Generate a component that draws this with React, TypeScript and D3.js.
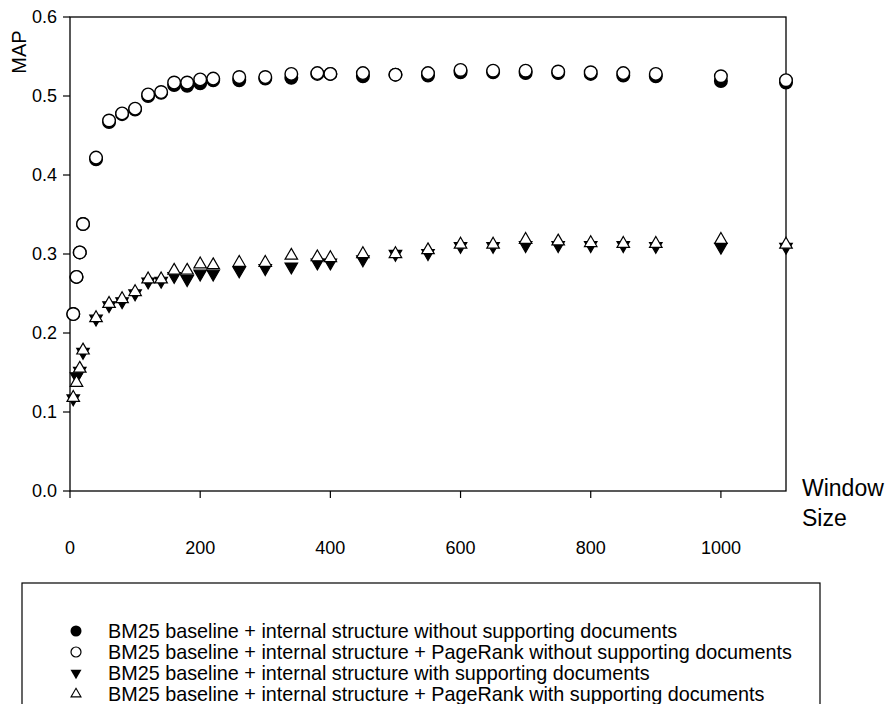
import React from "react";
import * as d3 from "d3";

const windowSizes = [5, 10, 15, 20, 40, 60, 80, 100, 120, 140, 160, 180, 200, 220, 260, 300, 340, 380, 400, 450, 500, 550, 600, 650, 700, 750, 800, 850, 900, 1000, 1100];

const baseNoSupport = [0.224, 0.271, 0.302, 0.338, 0.420, 0.467, 0.477, 0.483, 0.500, 0.504, 0.514, 0.513, 0.516, 0.520, 0.520, 0.522, 0.523, 0.528, 0.528, 0.525, 0.527, 0.526, 0.530, 0.530, 0.529, 0.529, 0.528, 0.526, 0.525, 0.519, 0.517];
const prNoSupport = [0.224, 0.271, 0.302, 0.338, 0.422, 0.469, 0.478, 0.484, 0.502, 0.505, 0.517, 0.517, 0.521, 0.522, 0.524, 0.524, 0.528, 0.529, 0.528, 0.529, 0.527, 0.529, 0.533, 0.532, 0.532, 0.531, 0.530, 0.529, 0.528, 0.525, 0.520];
const baseSupport = [0.117, 0.145, 0.152, 0.176, 0.218, 0.235, 0.240, 0.250, 0.265, 0.266, 0.272, 0.268, 0.275, 0.275, 0.279, 0.282, 0.284, 0.289, 0.289, 0.293, 0.300, 0.301, 0.310, 0.310, 0.311, 0.311, 0.311, 0.311, 0.310, 0.309, 0.309];
const prSupport = [0.118, 0.137, 0.155, 0.178, 0.219, 0.237, 0.243, 0.252, 0.268, 0.268, 0.279, 0.279, 0.287, 0.286, 0.289, 0.289, 0.298, 0.296, 0.295, 0.300, 0.300, 0.305, 0.312, 0.312, 0.318, 0.316, 0.314, 0.313, 0.313, 0.318, 0.312];

const xTicks = [0, 200, 400, 600, 800, 1000];
const yTicks = [0.0, 0.1, 0.2, 0.3, 0.4, 0.5, 0.6];

const legendLabels = [
  "BM25 baseline + internal structure without supporting documents",
  "BM25 baseline + internal structure + PageRank without supporting documents",
  "BM25 baseline + internal structure with supporting documents",
  "BM25 baseline + internal structure + PageRank with supporting documents",
];

const FONT = "'Liberation Sans', Arial, sans-serif";

function triPath(cx: number, cy: number, s: number, up: boolean) {
  const h = s * 0.866;
  if (up) {
    return `M${cx},${cy - (2 * h) / 3}L${cx + s / 2},${cy + h / 3}L${cx - s / 2},${cy + h / 3}Z`;
  }
  return `M${cx},${cy + (2 * h) / 3}L${cx + s / 2},${cy - h / 3}L${cx - s / 2},${cy - h / 3}Z`;
}

export default function App() {
  const W = 890, H = 704;
  const left = 70, right = 786, top = 17, bottom = 491;
  const x = d3.scaleLinear().domain([0, 1100]).range([left, right]);
  const y = d3.scaleLinear().domain([0, 0.6]).range([bottom, top]);
  const r = 6.3;
  const ts = 12.5;

  const series = [
    { vals: baseNoSupport, kind: "circle", fill: "#000" },
    { vals: prNoSupport, kind: "circle", fill: "#fff" },
    { vals: baseSupport, kind: "down", fill: "#000" },
    { vals: prSupport, kind: "up", fill: "#fff" },
  ];

  const legTop = 583;
  const legLine0 = 631;
  const legStep = 21;

  return (
    <svg width={W} height={H} style={{ display: "block", position: "absolute", left: 0, top: 0 }} fontFamily={FONT}>
      <rect x={0} y={0} width={W} height={H} fill="#fff" />
      <rect x={left} y={top} width={right - left} height={bottom - top} fill="none" stroke="#000" strokeWidth={1.3} />
      {yTicks.map((t) => (
        <g key={"y" + t}>
          <line x1={left - 7} x2={left} y1={y(t)} y2={y(t)} stroke="#000" strokeWidth={1.2} />
          <text x={left - 13} y={y(t)} dy="0.36em" textAnchor="end" fontSize={18}>
            {d3.format(".1f")(t)}
          </text>
        </g>
      ))}
      {xTicks.map((t) => (
        <g key={"x" + t}>
          <line x1={x(t)} x2={x(t)} y1={bottom} y2={bottom + 7} stroke="#000" strokeWidth={1.2} />
          <text x={x(t)} y={548} dy="0.36em" textAnchor="middle" fontSize={18}>
            {t}
          </text>
        </g>
      ))}
      <text transform="translate(26,52) rotate(-90)" textAnchor="middle" fontSize={20}>MAP</text>
      <text x={802} y={496} fontSize={23}>Window</text>
      <text x={802} y={526} fontSize={23}>Size</text>

      {series.map((s, si) => (
        <g key={"s" + si}>
          {s.vals.map((v, i) => {
            const cx = x(windowSizes[i]);
            const cy = y(v);
            if (s.kind === "circle") {
              return <circle key={i} cx={cx} cy={cy} r={r} fill={s.fill} stroke="#000" strokeWidth={1.4} />;
            }
            return (
              <path key={i} d={triPath(cx, cy, ts, s.kind === "up")} fill={s.fill} stroke="#000" strokeWidth={1.2} />
            );
          })}
        </g>
      ))}

      <rect x={22} y={legTop} width={798} height={140} fill="none" stroke="#000" strokeWidth={1.2} />
      {legendLabels.map((lab, i) => {
        const cy = legLine0 + i * legStep;
        const sx = 76;
        let sym;
        if (i === 0) sym = <circle cx={sx} cy={cy} r={5.5} fill="#000" />;
        else if (i === 1) sym = <circle cx={sx} cy={cy} r={5} fill="#fff" stroke="#000" strokeWidth={1.2} />;
        else if (i === 2) sym = <path d={triPath(sx, cy, 11, false)} fill="#000" />;
        else sym = <path d={triPath(sx, cy, 10, true)} fill="#fff" stroke="#000" strokeWidth={1.1} />;
        return (
          <g key={"l" + i}>
            {sym}
            <text x={108} y={cy} dy="0.36em" fontSize={19.8}>{lab}</text>
          </g>
        );
      })}
    </svg>
  );
}
